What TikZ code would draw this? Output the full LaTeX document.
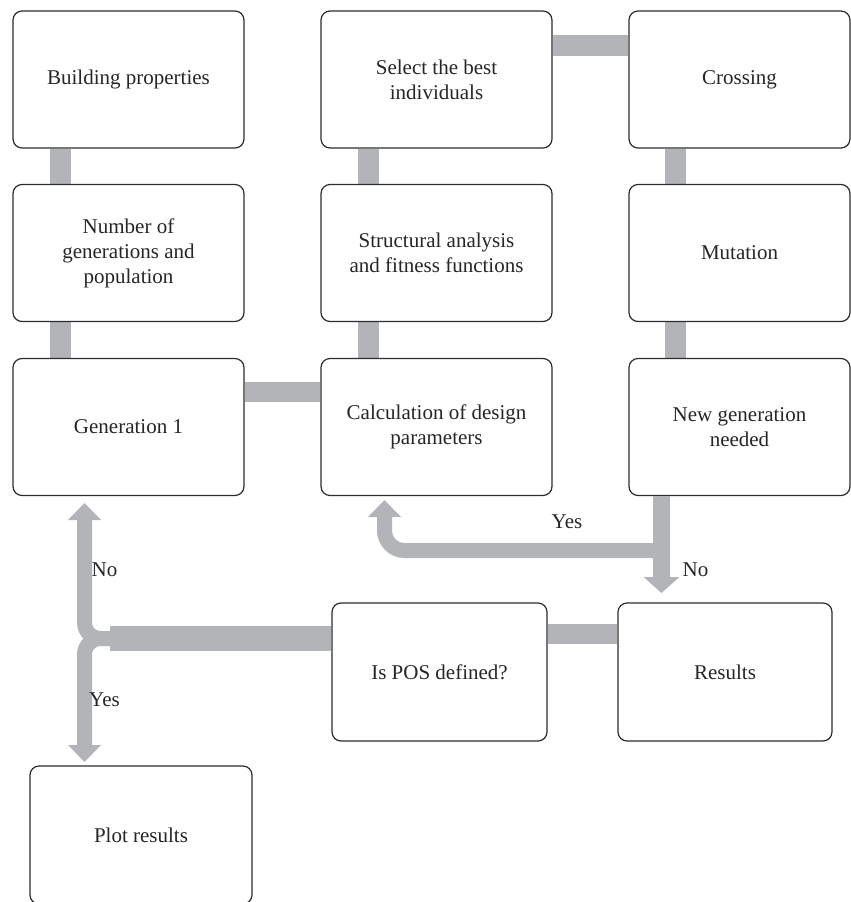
\documentclass[tikz,border=0pt]{standalone}
\usepackage{fontspec}
\setmainfont{Liberation Serif}
\usetikzlibrary{arrows.meta,backgrounds}
\definecolor{flowgray}{RGB}{179,180,184}
\definecolor{edgegray}{RGB}{45,45,45}

\begin{document}
\begin{tikzpicture}
[x=1pt,y=-1pt,
box/.style = {draw=edgegray, line width=1.2pt, rounded corners=9pt, fill=white, align=center,
  minimum width=231pt, minimum height=137pt, inner sep=2pt, font=\fontsize{21}{25}\selectfont, text=black!85},
link/.style = {draw=flowgray, line width=21pt},
flow/.style = {draw=flowgray, line width=15pt, rounded corners=16pt, -{Triangle[width=32pt,length=17pt]}},
answer/.style = {font=\fontsize{21}{25}\selectfont, text=black!85, inner sep=0pt},]
\useasboundingbox (0,0) rectangle (851,902);
% first column
\node (build) at (128.5,79.5)[box] {Building properties};
\node (gens) at (128.5,253)[box] {Number of\\generations and\\population};
\node (gen1) at (128.5,427)[box] {Generation 1};
% second column
\node (select) at (436.5,79.5)[box] {Select the best\\individuals};
\node (struct) at (436.5,253)[box] {Structural analysis\\and fitness functions};
\node (calc) at (436.5,427)[box] {Calculation of design\\parameters};
% third column
\node (cross) at (739.5,79.5)[box,minimum width=221pt] {Crossing};
\node (mut) at (739.5,253)[box,minimum width=221pt] {Mutation};
\node (newgen) at (739.5,427)[box,minimum width=221pt] {New generation\\needed};
% lower row
\node (pos) at (439.5,672)[box,minimum width=215pt,minimum height=138pt] {Is POS defined?};
\node (res) at (725,672)[box,minimum width=214pt,minimum height=138pt] {Results};
\node (plot) at (141,835)[box,minimum width=222pt,minimum height=138pt] {Plot results};
\coordinate (fork) at (661.5,550.5);
\coordinate (split) at (120,638.5);
\coordinate (back) at (384.5,500);
\coordinate (up) at (84.5,503);
\coordinate (down) at (84.5,762);
\coordinate (end) at (661.5,593);
\begin{scope}[on background layer]
\draw[link] ([xshift=-68pt]build.south) -- ([xshift=-68pt]gens.north);
\draw[link] ([xshift=-68pt]gens.south) -- ([xshift=-68pt]gen1.north);
\draw[link] ([xshift=-68pt]select.south) -- ([xshift=-68pt]struct.north);
\draw[link] ([xshift=-68pt]struct.south) -- ([xshift=-68pt]calc.north);
\draw[link] ([xshift=-64pt]cross.south) -- ([xshift=-64pt]mut.north);
\draw[link] ([xshift=-64pt]mut.south) -- ([xshift=-64pt]newgen.north);
\draw[link,line width=20pt] ([yshift=35pt]gen1.east) -- ([yshift=35pt]calc.west);
\draw[link] ([yshift=34pt]select.east) -- ([yshift=34pt]cross.west);
\draw[link,line width=20pt] ([yshift=38pt]pos.east) -- ([yshift=38pt]res.west);
\draw[link,line width=25pt] ([yshift=33.5pt]pos.west) -- ([xshift=-10pt]split);
\end{scope}
\draw[flow,line width=17pt,-{Triangle[width=35pt,length=16pt]}] ([xshift=-78pt]newgen.south) -- (end);
\draw[flow,rounded corners=20pt] (fork) -| (back);
\draw[flow] (split) -| (up);
\draw[flow] (split) -| (down);
\node (yes1) at (567,522)[answer] {Yes};
\node (no1) at (695.5,570)[answer] {No};
\node (no2) at (104.5,570)[answer] {No};
\node (yes2) at (104.5,700)[answer] {Yes};
\end{tikzpicture}
\end{document}
